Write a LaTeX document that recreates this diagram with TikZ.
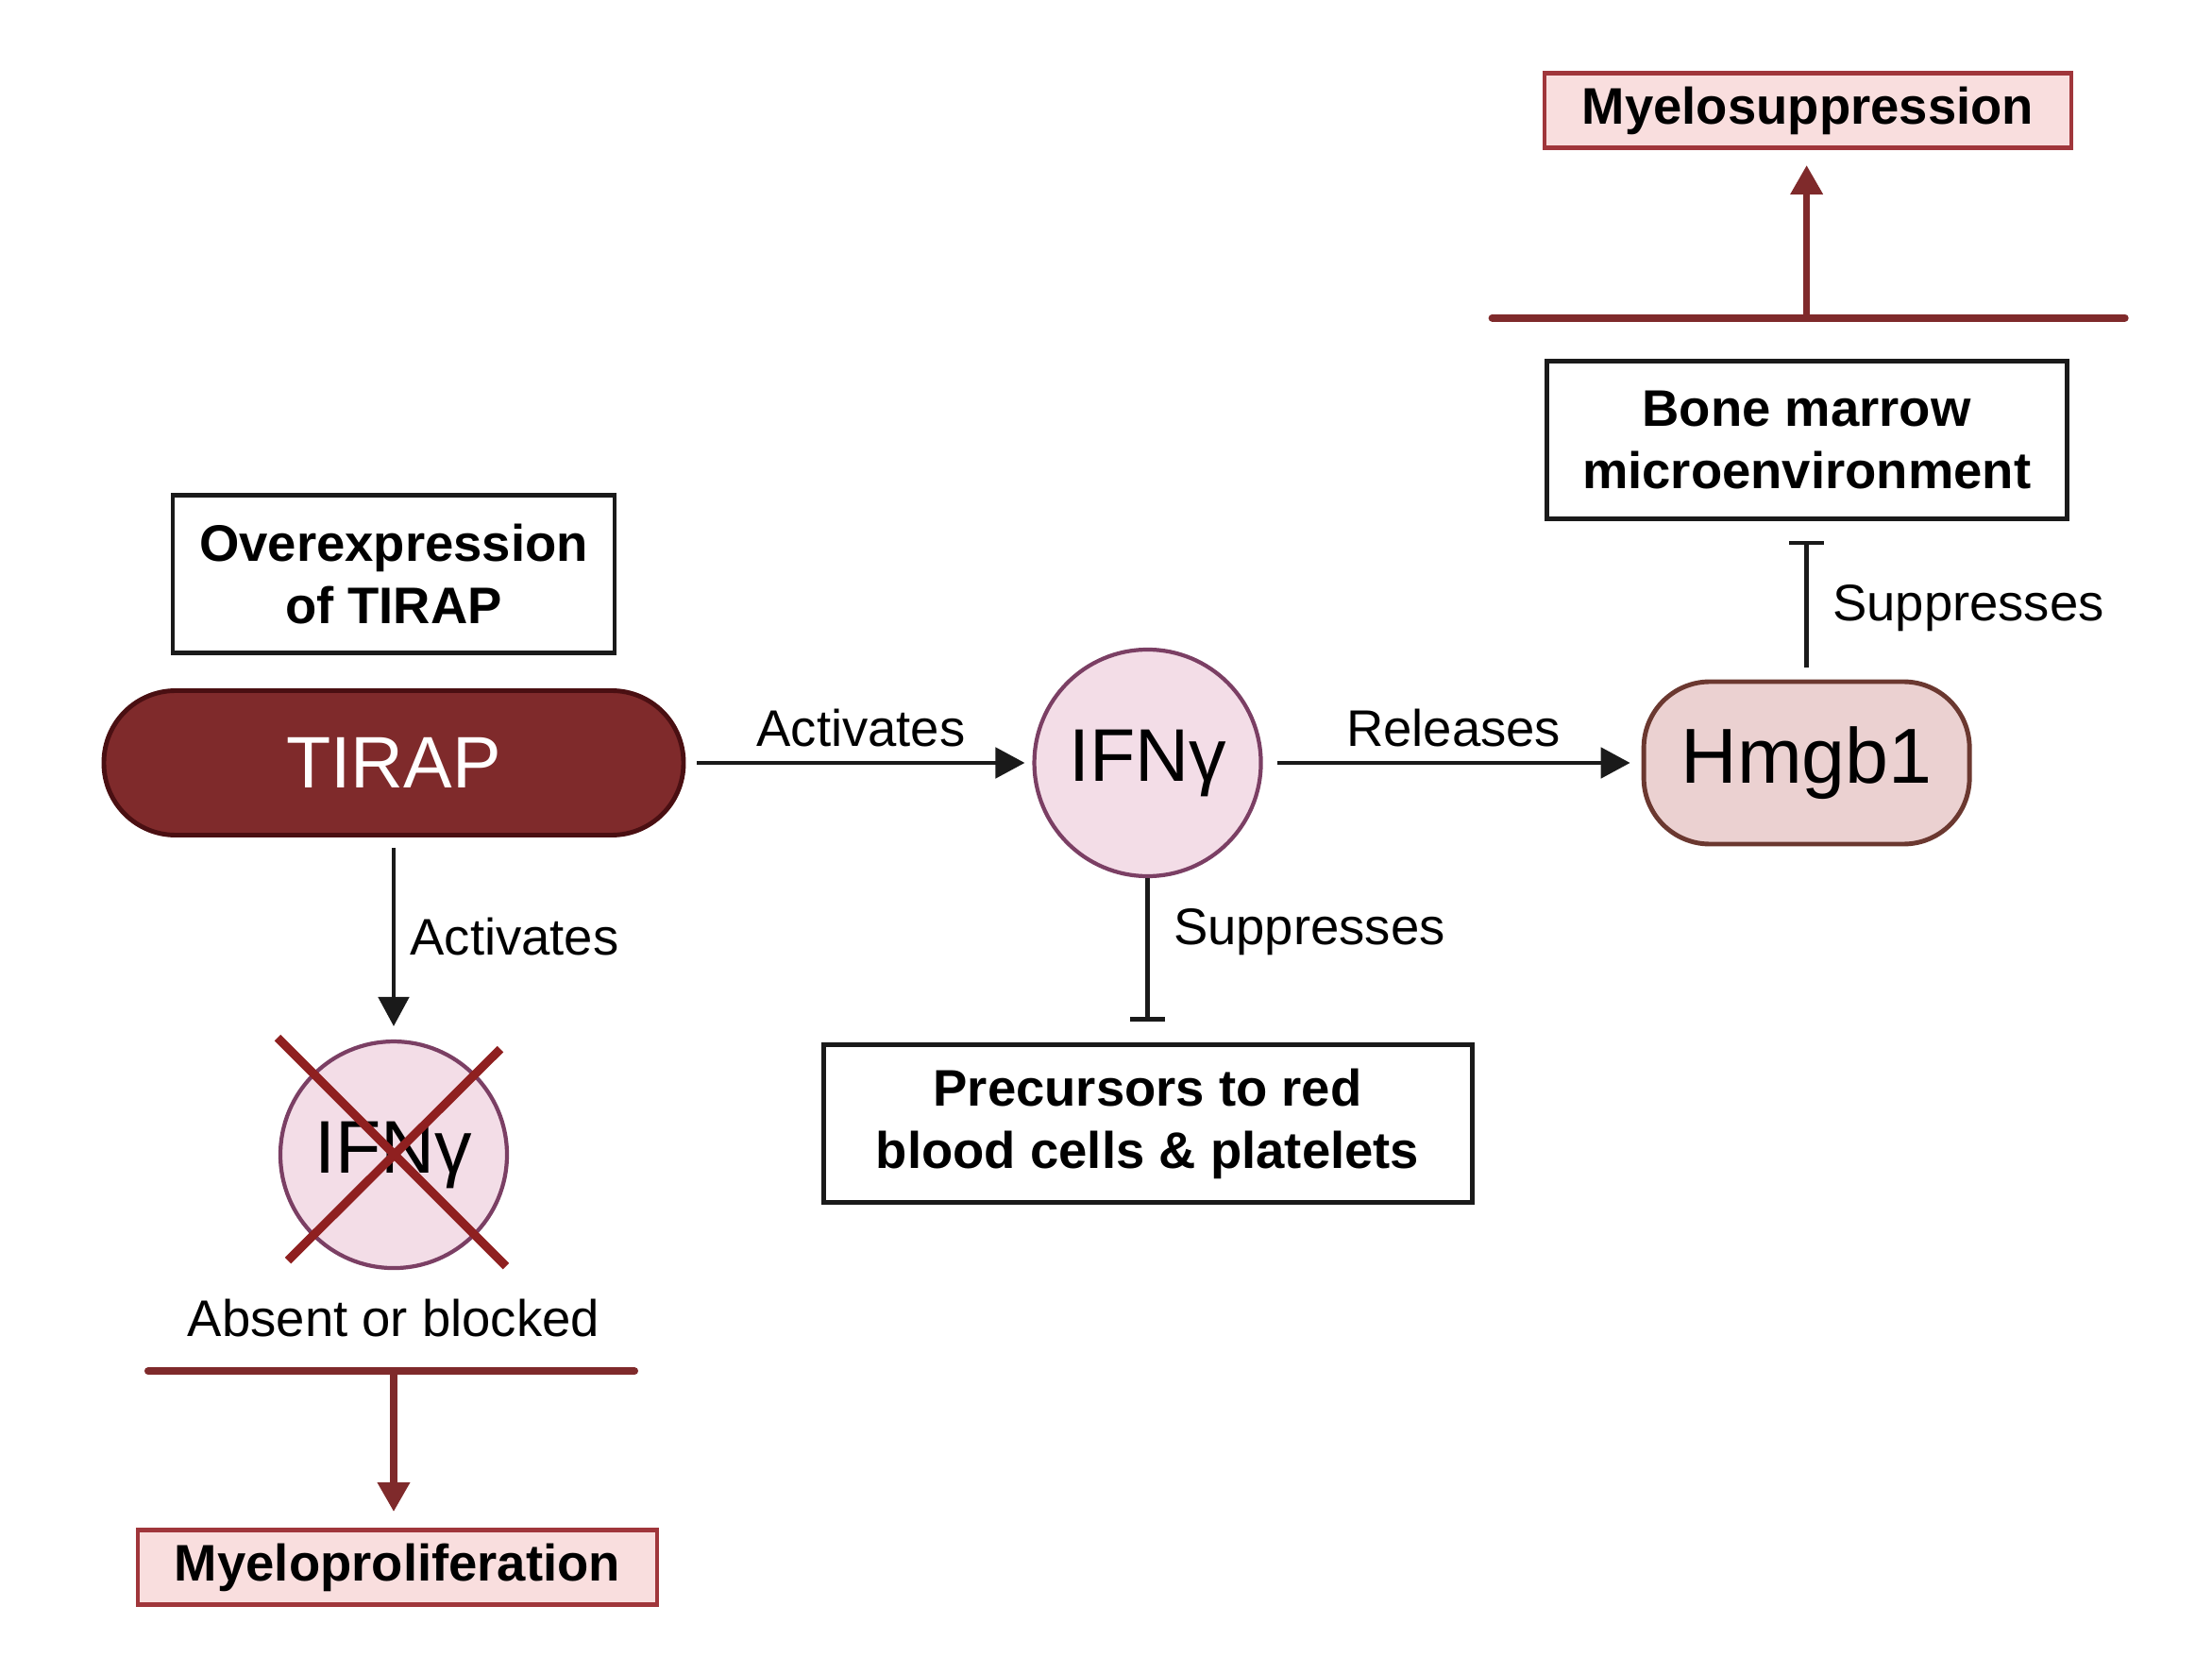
\documentclass[tikz,border=0pt]{standalone}
\usepackage{fontspec}
\setmainfont{Liberation Sans}
\usetikzlibrary{positioning}
\usetikzlibrary{arrows.meta}

\definecolor{tirapfill}{HTML}{7F2A2B}
\definecolor{tirapline}{HTML}{4A0F12}
\definecolor{ifnfill}{HTML}{F3DDE7}
\definecolor{ifnline}{HTML}{7B3F64}
\definecolor{hmgbfill}{HTML}{EBD1D1}
\definecolor{hmgbline}{HTML}{6B3830}
\definecolor{resfill}{HTML}{F9DEDE}
\definecolor{resline}{HTML}{A0363B}
\definecolor{crossred}{HTML}{8F2020}
\definecolor{ink}{HTML}{1A1A1A}

\begin{document}
\begin{tikzpicture}[>={Triangle[length=3.1mm, width=3.2mm]},
                    box/.style={draw=ink, line width=1.4pt, minimum height=1.67cm, align=center, font=\fontsize{15.5}{18.8}\selectfont\bfseries},
                    outcome/.style={draw=resline, fill=resfill, line width=1.4pt, minimum height=0.79cm, inner sep=0pt, font=\fontsize{15.5}{18.8}\selectfont\bfseries},
                    pill/.style={draw=tirapline, fill=tirapfill, line width=1.4pt, rounded corners=7.6mm, minimum width=6.14cm, minimum height=1.53cm, text=white, font=\fontsize{22}{26}\selectfont},
                    mol/.style={circle, draw=ifnline, fill=ifnfill, line width=1.2pt, minimum size=2.4cm, inner sep=0pt, font=\fontsize{22.5}{26}\selectfont},
                    hmgb/.style={draw=hmgbline, fill=hmgbfill, line width=1.4pt, rounded corners=7mm, minimum width=3.45cm, minimum height=1.72cm, font=\fontsize{23.5}{27}\selectfont},
                    lbl/.style={font=\fontsize{15.5}{18.8}\selectfont, inner sep=1.5mm},
                    act/.style={draw=ink, line width=1.4pt, ->},
                    supp/.style={draw=ink, line width=1.4pt, -{Bar[width=3.7mm]}},
                    bar/.style={draw=tirapfill, line width=2.3pt, line cap=round},
                    redarrow/.style={draw=tirapfill, line width=2pt, -{Triangle[length=3.1mm, width=3.3mm]}},
                    cross/.style={draw=crossred, line width=2.6pt}]
    \useasboundingbox (0,0) rectangle (23.43,-17.73);

    \path
        node[pill] (tirap) at (4.17,-8.08) {TIRAP}
        node[box, minimum width=4.68cm, above=3.5mm of tirap] (over) {Overexpression\\of TIRAP}
        node[mol, right=3.67cm of tirap] (ifn) {IFNγ}
        node[hmgb, right=4.01cm of ifn] (hmgb) {Hmgb1}
        node[box, minimum width=5.51cm, above=1.68cm of hmgb] (bone) {Bone marrow\\microenvironment}
        node[box, minimum width=6.87cm, below=1.74cm of ifn] (prec) {Precursors to red\\blood cells \& platelets}
        node[mol, below=2.14cm of tirap] (ifnx) {IFNγ}
        node[lbl, inner sep=0pt, below=3mm of ifnx] (absent) {Absent or blocked}
        node[outcome, minimum width=5.58cm] (msup) at (19.15,-1.17) {Myelosuppression}
        node[outcome, minimum width=5.5cm] (mpro) at (4.21,-16.6) {Myeloproliferation};

    % crossed out
    \draw[cross] ([shift={(-1.23,1.24)}]ifnx.center) -- ([shift={(1.19,-1.18)}]ifnx.center);
    \draw[cross] ([shift={(-1.12,-1.12)}]ifnx.center) -- ([shift={(1.13,1.12)}]ifnx.center);

    \draw[act] ([xshift=1.2mm]tirap.east) -- ([xshift=-0.8mm]ifn.west) node[lbl, midway, above] {Activates};
    \draw[act] ([xshift=1.5mm]ifn.east) -- ([xshift=-1.2mm]hmgb.west) node[lbl, midway, above] {Releases};
    \draw[act] ([yshift=-1.1mm]tirap.south) -- ([yshift=1.4mm]ifnx.north) node[lbl, midway, right] {Activates};
    \draw[supp, shorten >=2.2mm] (ifn.south) -- (ifn.south |- prec.north) node[lbl, pos=0.33, right, xshift=1mm] {Suppresses};
    \draw[supp, shorten <=1.3mm, shorten >=2.1mm] (hmgb.north) -- (hmgb.north |- bone.south) node[lbl, pos=0.45, right, xshift=1mm] {Suppresses};

    % outcomes
    \coordinate (bar1) at ([yshift=4.3mm]bone.north);
    \draw[bar] ([xshift=-3.33cm]bar1) -- ([xshift=3.37cm]bar1);
    \draw[redarrow, shorten >=1.6mm] (bar1) -- (bar1 |- msup.south);
    \coordinate (bar2) at ([yshift=-10.7mm]ifnx.south);
    \draw[bar] ([xshift=-2.6cm]bar2) -- ([xshift=2.55cm]bar2);
    \draw[redarrow, shorten >=1.7mm] (bar2) -- (bar2 |- mpro.north);
\end{tikzpicture}
\end{document}
